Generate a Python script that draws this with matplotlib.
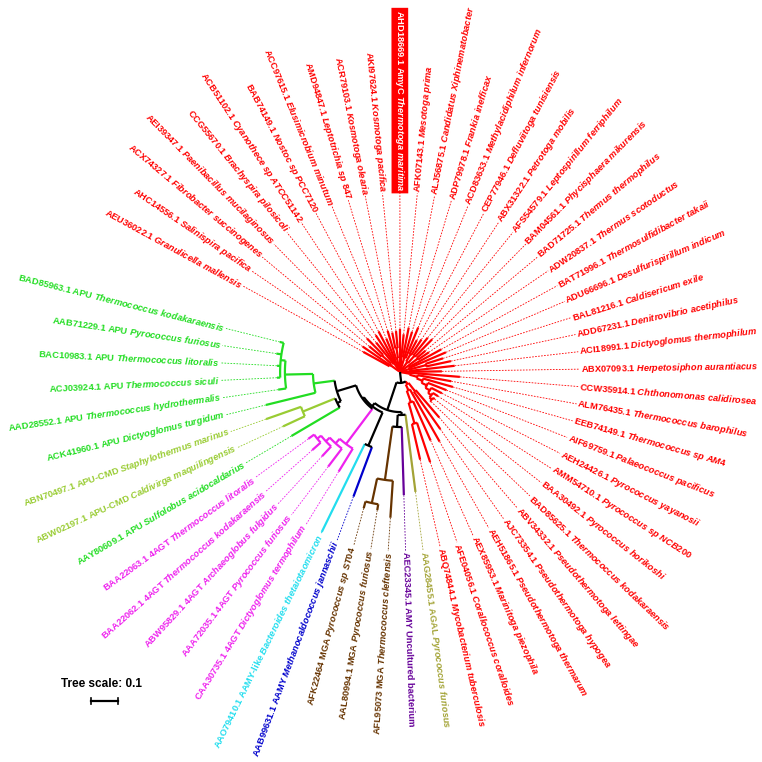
import numpy as np
import matplotlib.pyplot as plt
import matplotlib as mpl

mpl.rcParams['font.family'] = ['Liberation Sans', 'DejaVu Sans']
mpl.rcParams['font.weight'] = 'bold'
mpl.rcParams['mathtext.fontset'] = 'custom'
mpl.rcParams['mathtext.it'] = 'Liberation Sans:italic:bold'
mpl.rcParams['mathtext.rm'] = 'Liberation Sans:bold'

R, GR, YG, OL, PU, BR, BL, CY, MG = ('#ff0000', '#22dd22', '#99cc33', '#a3a336',
                                      '#660099', '#663300', '#0000cc', '#22ddee', '#ee22ee')

# leaves, clockwise starting after the gap on the left
ids = ['AEU36022.1', 'AHC14556.1', 'ACX74327.1', 'AEI39347.1', 'CCG55670.1', 'ACB51102.1',
       'BAB74149.1', 'ACC97615.1', 'AMD94847.1', 'ACR79103.1', 'AKI97624.1', 'AHD18669.1 AmyC',
       'AFK07143.1', 'ALJ56875.1', 'ADP79978.1', 'ACD83633.1', 'CEP77946.1', 'ABX31322.1',
       'AFS54579.1', 'BAM04561.1', 'BAD71725.1', 'ADW20837.1', 'BAT71996.1', 'ADU66696.1',
       'BAL81216.1', 'ADD67231.1', 'ACI18991.1', 'ABX07093.1', 'CCW35914.1', 'ALM76435.1',
       'EEB74149.1', 'AIF69759.1', 'AEH24426.1', 'AMM54710.1', 'BAA30492.1', 'BAD85625.1',
       'ABV34332.1', 'AJC73354.1', 'AEH51865.1', 'AEX85953.1', 'AFE04056.1', 'ABQ74844.1',
       'AAG28455.1 AGAL', 'AEC23345.1 AMY Uncultured bacterium', 'AFL95073 MGA', 'AAL80994.1 MGA',
       'AFK22464 MGA', 'AAB99631.1 AAMY', 'AAO79410.1 AAMY-like', 'CAA30735.1 4AGT',
       'AAA72035.1 4AGT', 'ABW95829.1 4AGT', 'BAA22062.1 4AGT', 'BAA22063.1 4AGT',
       'AAY80609.1 APU', 'ABW02197.1 APU-CMD', 'ABN70497.1 APU-CMD', 'ACK41960.1 APU',
       'AAD28552.1 APU', 'ACJ03924.1 APU', 'BAC10983.1 APU', 'AAB71229.1 APU', 'BAD85963.1 APU']

species = ['Granulicella mallensis', 'Salinispira pacifica', 'Fibrobacter succinogenes',
           'Paenibacillus mucilaginosus', 'Brachyspira pilosicoli', 'Cyanothece sp ATCC51142',
           'Nostoc sp PCC7120', 'Elusimicrobium minutum', 'Leptotrichia sp 847', 'Kosmotoga olearia',
           'Kosmotoga pacifica', 'Thermotoga maritima', 'Mesotoga prima', 'Candidatus Xiphinematobacter',
           'Frankia inefficax', 'Methylacidiphilum infernorum', 'Defluviitoga tunisiensis',
           'Petrotoga mobilis', 'Leptospirillum ferriphilum', 'Phycisphaera mikurensis',
           'Thermus thermophilus', 'Thermus scotoductus', 'Thermosulfidibacter takaii',
           'Desulfurispirillum indicum', 'Caldisericum exile', 'Denitrovibrio acetiphilus',
           'Dictyoglomus thermophilum', 'Herpetosiphon aurantiacus', 'Chthonomonas calidirosea',
           'Thermococcus barophilus', 'Thermococcus sp AM4', 'Palaeococcus pacificus',
           'Pyrococcus yayanosii', 'Pyrococcus sp NCB200', 'Pyrococcus horikoshi',
           'Thermococcus kodakaraensis', 'Pseudothermotoga lettingae', 'Pseudothermotoga hypogea',
           'Pseudothermotoga thermarum', 'Marinitoga piezophila', 'Corallococcus coralloides',
           'Mycobacterium tuberculosis', 'Pyrococcus furiosus', '', 'Thermococcus cleftensis',
           'Pyrococcus furiosus', 'Pyrococcus sp ST04', 'Methanocaldococcus jannaschii',
           'Bacteroides thetaiotaomicron', 'Dictyoglomus termophilum', 'Pyrococcus furiosus',
           'Archaeoglobus fulgidus', 'Thermococcus kodakaraensis', 'Thermococcus litoralis',
           'Sulfolobus acidocaldarius', 'Caldivirga maquilingensis', 'Staphylothermus marinus',
           'Dictyoglomus turgidum', 'Thermococcus hydrothermalis', 'Thermococcus siculi',
           'Thermococcus litoralis', 'Pyrococcus furiosus', 'Thermococcus kodakaraensis']

leaf_color = [R] * 42 + [OL, PU, BR, BR, BR, BL, CY] + [MG] * 5 + [GR, YG, YG] + [GR] * 6

# distance of each leaf from the root (tree units)
leaf_depth = [0.157, 0.169, 0.150, 0.176, 0.142, 0.165, 0.172, 0.135, 0.161, 0.150, 0.154,
              0.161, 0.142, 0.169, 0.157, 0.180, 0.135, 0.146, 0.165, 0.172, 0.124, 0.131,
              0.176, 0.187, 0.169, 0.195, 0.206, 0.157, 0.225, 0.195, 0.206, 0.187, 0.176,
              0.169, 0.165, 0.161,
              0.225, 0.262, 0.300, 0.281, 0.356, 0.337,
              0.453, 0.461, 0.547, 0.524, 0.528, 0.498, 0.667,
              0.438, 0.445, 0.430, 0.440, 0.425,
              0.472, 0.483, 0.532, 0.517, 0.461, 0.461, 0.461, 0.468, 0.464]

highlight = 11

# internal node = [depth, colour, children...], leaf = index
tree = [0.0, 'k',
        [0.004, R,
         [0.045, R, 0, 1, [0.09, R, 2, 3]],
         [0.037, R, 4, 5, 6],
         7,
         [0.052, R, 8, [0.09, R, 9, 10]],
         11, 12,
         [0.056, R, 13, 14, 15],
         [0.045, R, [0.075, R, 16, 17], [0.08, R, 18, 19]],
         [0.082, R, 20, 21],
         [0.037, R, 22, 23, [0.1, R, 24, 25], 26],
         27,
         [0.037, R, 28, [0.067, R, 29, [0.09, R, 30, [0.112, R, 31,
                                                         [0.131, R, 32, [0.146, R, 33, [0.157, R, 34, 35]]]]]]]],
        [0.041, 'k',
         [0.052, R, [0.09, R, 36, 37], [0.075, R, 38, [0.12, R, 39, [0.2, R, 40, 41]]]],
         [0.150, 'k',
          [0.161, 'k', 42, [0.206, 'k', 43, [0.408, BR, 44, [0.502, BR, 45, 46]]]],
          [0.165, 'k',
           [0.300, 'k', 47, 48],
           [0.172, 'k',
            [0.337, MG, 49, [0.36, MG, 50, [0.38, MG, 51, [0.398, MG, 52, 53]]]],
            [0.247, 'k',
             [0.262, 'k', 54, [0.393, YG, 55, 56]],
             [0.326, GR, 57, [0.431, GR, 58, [0.449, GR, 59, 60, 61, 62]]]]]]]]]

ppu = 267.0            # pixels per tree unit
cx, cy = 400, 372      # tree centre in pixels
label_r = 0.676
start_ang, step = 151.3, 5.57
leaf_ang = [start_ang - step * i for i in range(len(ids))]

fig = plt.figure(figsize=(7.62, 7.62), dpi=100)
ax = fig.add_axes([0, 0, 1, 1])
ax.set_xlim(-cx / ppu, (762 - cx) / ppu)
ax.set_ylim(-(762 - cy) / ppu, cy / ppu)
ax.axis('off')


def radial(th, r0, r1, **kw):
    t = np.radians(th)
    ax.plot([r0 * np.cos(t), r1 * np.cos(t)], [r0 * np.sin(t), r1 * np.sin(t)], **kw)


def draw(node, r0):
    if isinstance(node, int):
        th = leaf_ang[node]
        radial(th, r0, leaf_depth[node], color=leaf_color[node], lw=1.6, solid_capstyle='butt')
        radial(th, leaf_depth[node], label_r - 0.004, color=leaf_color[node], lw=0.6,
               linestyle=(0, (2, 1.6)))
        return th
    r1, col = node[0], node[1]
    kids = [draw(c, r1) for c in node[2:]]
    th = (min(kids) + max(kids)) / 2
    t = np.radians(np.linspace(min(kids), max(kids), 60))
    ax.plot(r1 * np.cos(t), r1 * np.sin(t), color=col, lw=1.6, solid_capstyle='butt')
    radial(th, r0, r1, color=col, lw=1.6, solid_capstyle='butt')
    return th


draw(tree, 0.0)

for i, th in enumerate(leaf_ang):
    sp = species[i].replace(' ', r'\ ')
    txt = ids[i] + (r' $\mathit{' + sp + '}$' if sp else '')
    t = np.radians(th)
    a = (th + 180) % 360 - 180
    if -90 <= a <= 90:
        rot, ha = a, 'left'
    else:
        rot, ha = a - 180, 'right'
    kw = dict(color=leaf_color[i])
    if i == highlight:
        kw = dict(color='white', bbox=dict(boxstyle='square,pad=0.2', fc=R, ec='none'))
    ax.text(label_r * np.cos(t), label_r * np.sin(t), txt, rotation=rot, ha=ha, va='center',
            rotation_mode='anchor', fontsize=6.7, fontweight='bold', **kw)

# scale bar
sx, sy = (91 - cx) / ppu, (cy - 701) / ppu
ax.plot([sx, sx + 0.1], [sy, sy], color='k', lw=1.6)
ax.plot([sx, sx], [sy - 0.01, sy + 0.01], color='k', lw=1.2)
ax.plot([sx + 0.1, sx + 0.1], [sy - 0.01, sy + 0.01], color='k', lw=1.2)
ax.text(sx + 0.04, sy + 0.04, 'Tree scale: 0.1', ha='center', va='bottom', fontsize=8.5,
        fontweight='bold')

fig.savefig('out.png', dpi=100)
